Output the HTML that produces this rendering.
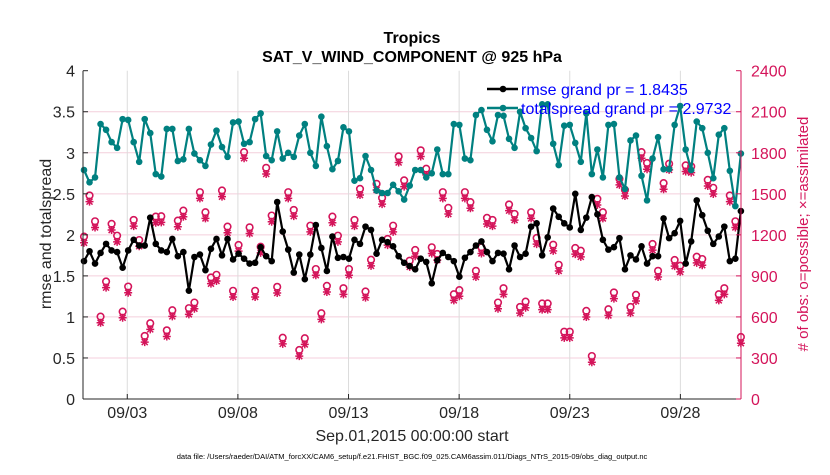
<!DOCTYPE html>
<html><head><meta charset="utf-8"><style>
body{margin:0;background:#fff;width:830px;height:470px;overflow:hidden}
svg text{font-family:"Liberation Sans",Arial,sans-serif}
</style></head><body>
<svg id="chart" width="830" height="470" xmlns="http://www.w3.org/2000/svg">
<rect width="830" height="470" fill="#fff"/>
<g id="grid"></g><g id="series"></g><g id="axes"></g>
</svg>
<script>
const xTickLabels=["09/03","09/08","09/13","09/18","09/23","09/28"];
const xTickIndex=[7.84,27.88,47.92,67.96,88.0,108.04];
const yTicksLeft=[0,0.5,1,1.5,2,2.5,3,3.5,4];
const yTicksRight=[0,300,600,900,1200,1500,1800,2100,2400];
const totalspread=[2.79,2.64,2.70,3.35,3.28,3.13,3.06,3.41,3.40,3.13,2.89,3.41,3.24,2.74,2.71,3.29,3.29,2.90,2.92,3.29,2.99,2.91,2.84,3.10,3.27,3.07,2.95,3.37,3.38,3.11,3.13,
3.41,3.48,2.96,2.91,3.26,2.93,3.00,2.95,3.21,3.35,3.00,2.84,3.44,3.08,2.80,2.90,3.31,3.26,2.66,2.69,2.96,2.79,2.54,2.51,2.51,2.61,2.53,2.43,2.60,2.79,
2.79,2.70,2.75,3.04,2.74,2.74,3.35,3.34,2.93,2.91,3.46,3.52,3.28,3.14,3.46,3.45,3.17,3.06,3.50,3.30,3.18,3.02,3.59,3.59,3.11,2.85,3.33,3.34,3.12,2.89,
3.48,2.74,3.04,2.70,3.34,3.35,2.70,2.56,3.15,3.21,2.72,2.42,2.93,3.19,2.80,2.80,3.34,3.57,3.04,2.79,3.38,3.30,3.00,2.69,3.22,3.30,2.78,2.35,2.99];
const rmse=[1.68,1.80,1.65,1.78,1.89,1.81,1.79,1.60,1.81,1.94,1.87,1.87,2.21,1.89,1.81,1.79,1.95,1.74,1.79,1.32,1.73,1.76,1.57,1.83,1.95,1.75,1.95,1.70,1.77,1.71,1.65,
1.66,1.85,1.74,1.68,2.40,2.04,1.82,1.54,1.76,1.46,1.76,2.12,1.84,1.56,1.98,1.72,1.73,1.71,1.94,1.89,2.10,2.06,1.77,1.94,1.91,1.86,1.74,1.66,1.62,1.58,
1.71,1.67,1.41,1.69,1.78,1.73,1.68,1.49,1.72,1.79,1.87,1.92,1.79,1.68,1.78,1.77,1.58,1.87,1.73,1.77,2.10,2.14,1.75,1.97,2.32,2.22,2.14,2.09,2.50,2.06,
2.21,2.46,2.25,1.94,1.82,1.85,1.96,1.58,1.75,1.70,1.86,1.65,1.74,1.74,2.20,1.96,2.02,2.17,1.65,1.92,2.42,2.24,2.05,1.89,1.98,2.10,1.68,1.71,2.29];
const nAssim=[1142,1443,1254,557,814,1235,1149,594,777,1264,1117,416,509,1288,1291,457,604,1259,1332,619,660,1467,1320,843,863,1479,1215,746,1081,1760,1210,
746,1068,1645,1296,775,403,1467,1337,313,399,1222,905,582,782,1288,1149,765,905,1264,1491,741,973,1528,1425,1125,1222,1729,1553,966,1044,
1773,1638,1064,1015,1467,1352,721,751,1467,1394,892,1064,1279,1264,660,765,1377,1308,628,667,1320,1132,653,653,1083,936,447,447,1059,1039,
599,269,1418,1320,611,734,1565,1484,628,716,1760,1680,1088,892,1533,1675,971,929,1663,1655,995,978,1557,1499,721,765,1443,1254,408];
const nPossible=[1187,1488,1299,602,859,1280,1194,639,822,1309,1162,461,554,1333,1336,502,649,1304,1377,664,705,1512,1365,888,908,1524,1260,791,1126,1805,1255,
791,1113,1690,1341,820,448,1512,1382,358,444,1267,950,627,827,1333,1194,810,950,1309,1536,786,1018,1573,1470,1170,1267,1774,1598,1011,1089,
1818,1683,1109,1060,1512,1397,766,796,1512,1439,937,1109,1324,1309,705,810,1422,1353,673,712,1365,1177,698,698,1128,981,492,492,1104,1084,
644,314,1463,1365,656,779,1610,1529,673,761,1805,1725,1133,937,1578,1720,1016,974,1708,1700,1040,1023,1602,1544,766,810,1488,1299,453];

const NS="http://www.w3.org/2000/svg";
const X0=83,X1=741,Y0=399,Y1=70.7;
const xs=i=>84+5.52*i;
const yL=v=>Y0-(v/4)*(Y0-Y1);
const yR=v=>Y0-(v/2400)*(Y0-Y1);
function mk(tag,attrs,parent,txt){const e=document.createElementNS(NS,tag);for(const k in attrs)e.setAttribute(k,attrs[k]);if(txt!==undefined)e.textContent=txt;parent.appendChild(e);return e;}
const grid=document.getElementById('grid'),ser=document.getElementById('series'),ax=document.getElementById('axes');
yTicksRight.forEach(v=>{if(v>0&&v<2400){const l=mk('line',{x1:X0,x2:X1,y1:yR(v),y2:yR(v),stroke:'#f4cfdc','stroke-width':1},grid);

}});
xTickIndex.forEach(t=>{const l=mk('line',{x1:xs(t),x2:xs(t),y1:Y1,y2:Y0,stroke:'#dcdcdc','stroke-width':1},grid);

});
const red='#d4145a';
function star(x,y,g){const p=mk('path',{d:`M${x-4} ${y}H${x+4}M${x} ${y-4}V${y+4}M${x-3} ${y-3}L${x+3} ${y+3}M${x-3} ${y+3}L${x+3} ${y-3}`,stroke:red,'stroke-width':1.5,fill:'none'},g);

}
const gObs=mk('g',{},ser);


nPossible.forEach((v,i)=>{const c=mk('circle',{cx:xs(i),cy:yR(v),r:3.3,fill:'none',stroke:red,'stroke-width':1.6},gObs);

});
nAssim.forEach((v,i)=>{star(xs(i),yR(v),gObs);});
function line(data,color,name){const g=mk('g',{},ser);


mk('polyline',{points:data.map((v,i)=>xs(i)+','+yL(v)).join(' '),fill:'none',stroke:color,'stroke-width':2.2,'stroke-linejoin':'round'},g);
data.forEach((v,i)=>{const c=mk('circle',{cx:xs(i),cy:yL(v),r:3.3,fill:color},g);

});}
line(totalspread,'#008080','totalspread-line');
line(rmse,'#000000','rmse-line');
mk('line',{x1:X0,x2:X0,y1:Y1,y2:Y0,stroke:'#262626','stroke-width':1},ax);
mk('line',{x1:X0,x2:X1,y1:Y0,y2:Y0,stroke:'#262626','stroke-width':1},ax);
mk('line',{x1:X1,x2:X1,y1:Y1,y2:Y0,stroke:red,'stroke-width':1},ax);
yTicksLeft.forEach(v=>{mk('line',{x1:X0,x2:X0+5,y1:yL(v),y2:yL(v),stroke:'#262626'},ax);
const t=mk('text',{x:X0-8,y:yL(v)+6,'text-anchor':'end','font-size':16,fill:'#262626'},ax,String(v));

});
yTicksRight.forEach(v=>{mk('line',{x1:X1-5,x2:X1,y1:yR(v),y2:yR(v),stroke:red},ax);
const t=mk('text',{x:X1+10,y:yR(v)+6,'font-size':16,fill:red},ax,String(v));

});
xTickIndex.forEach((ti,k)=>{mk('line',{x1:xs(ti),x2:xs(ti),y1:Y0,y2:Y0-5,stroke:'#262626'},ax);
const t=mk('text',{x:xs(ti),y:418,'text-anchor':'middle','font-size':16,fill:'#262626'},ax,xTickLabels[k]);

});
</script>
<svg style="position:absolute;left:0;top:0" width="830" height="470" xmlns="http://www.w3.org/2000/svg">
<text x="412" y="62" text-anchor="middle" font-size="16" font-weight="bold" fill="#000">SAT_V_WIND_COMPONENT @ 925 hPa</text>
<text x="412" y="43" text-anchor="middle" font-size="16" font-weight="bold" fill="#000">Tropics</text>
<text transform="translate(51,234) rotate(-90)" text-anchor="middle" font-size="16" fill="#262626">rmse and totalspread</text>
<text transform="translate(808,234) rotate(-90)" text-anchor="middle" font-size="15" fill="#d4145a"># of obs: o=possible; ×=assimilated</text>
<text x="412" y="441" text-anchor="middle" font-size="16" fill="#262626">Sep.01,2015 00:00:00 start</text>
<text x="412" y="459" text-anchor="middle" font-size="7.5" fill="#000">data file: /Users/raeder/DAI/ATM_forcXX/CAM6_setup/f.e21.FHIST_BGC.f09_025.CAM6assim.011/Diags_NTrS_2015-09/obs_diag_output.nc</text>
<g>
<line x1="487" x2="518" y1="89" y2="89" stroke="#000" stroke-width="2.6"/><circle cx="503" cy="89" r="3.3" fill="#000"/>
<text x="521" y="95" font-size="16" fill="#0000ff">rmse grand pr = 1.8435</text>
<line x1="487" x2="518" y1="108" y2="108" stroke="#008080" stroke-width="2.6"/><circle cx="503" cy="108" r="3.3" fill="#008080"/>
<text x="521" y="114" font-size="16" fill="#0000ff">totalspread grand pr = 2.9732</text>
</g>
</svg>
</body></html>
